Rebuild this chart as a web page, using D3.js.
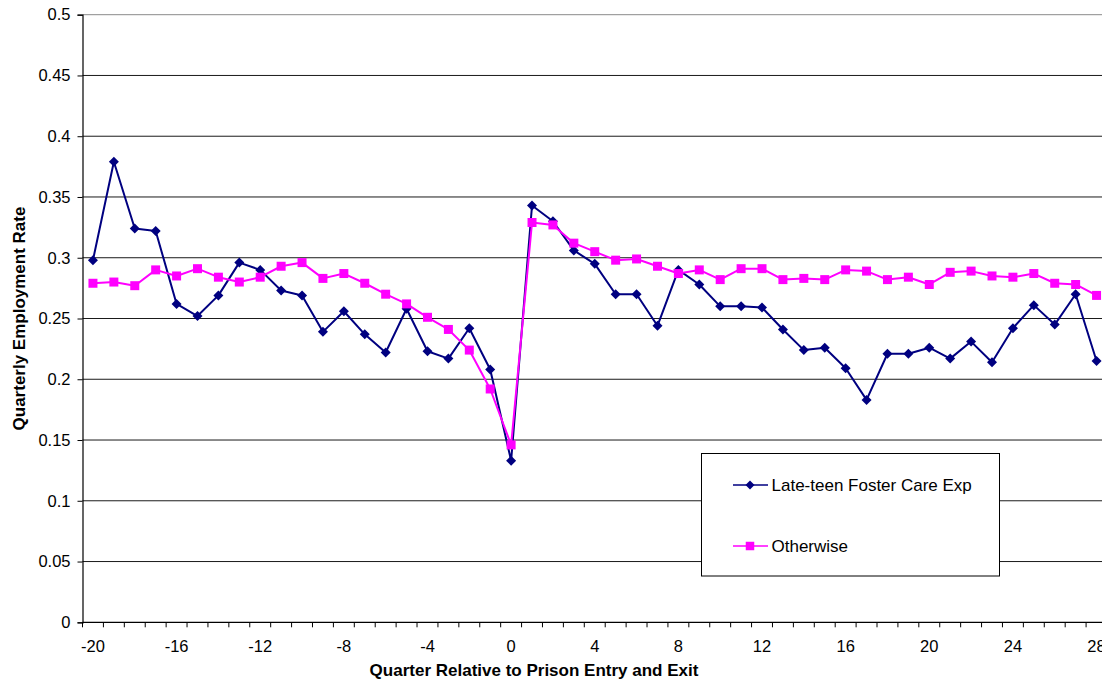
<!DOCTYPE html>
<html>
<head>
<meta charset="utf-8">
<script src="https://cdn.jsdelivr.net/npm/d3@7"></script>
<style>
  html, body { margin: 0; padding: 0; background: #fff; }
  svg { display: block; font-family: "Liberation Sans", Arial, sans-serif; }
</style>
</head>
<body>
<svg id="chart" width="1102" height="687"></svg>
<script>
// Quarters relative to prison entry (negative) and exit (positive)
const quarters = d3.range(-20, 29);

// Quarterly employment rate, youth with late-teen foster care experience
const fosterCare = [
  0.298, 0.379, 0.324, 0.322, 0.262, 0.252, 0.269, 0.296, 0.290, 0.273,
  0.269, 0.239, 0.256, 0.237, 0.222, 0.258, 0.223, 0.217, 0.242, 0.208,
  0.133,
  0.343, 0.330, 0.306, 0.295, 0.270, 0.270, 0.244, 0.290, 0.278, 0.260,
  0.260, 0.259, 0.241, 0.224, 0.226, 0.209, 0.183, 0.221, 0.221, 0.226,
  0.217, 0.231, 0.214, 0.242, 0.261, 0.245, 0.270, 0.215
];

// Quarterly employment rate, everyone else
const otherwise = [
  0.279, 0.280, 0.277, 0.290, 0.285, 0.291, 0.284, 0.280, 0.284, 0.293,
  0.296, 0.283, 0.287, 0.279, 0.270, 0.262, 0.251, 0.241, 0.224, 0.192,
  0.146,
  0.329, 0.327, 0.312, 0.305, 0.298, 0.299, 0.293, 0.287, 0.290, 0.282,
  0.291, 0.291, 0.282, 0.283, 0.282, 0.290, 0.289, 0.282, 0.284, 0.278,
  0.288, 0.289, 0.285, 0.284, 0.287, 0.279, 0.278, 0.269
];

const yTicks = d3.range(0, 0.5001, 0.05).map(v => +v.toFixed(2));
const xLabelled = quarters.filter(q => q % 4 === 0);

const seriesNames = ["Late-teen Foster Care Exp", "Otherwise"];
const seriesColors = ["#000080", "#ff00ff"];

const svg = d3.select("#chart");
const plot = { left: 82.5, right: 1107, top: 14.7, bottom: 622.3 };

const x = d3.scaleBand().domain(quarters).range([plot.left, plot.right]).padding(0);
const y = d3.scaleLinear().domain([0, 0.5]).range([plot.bottom, plot.top]);
const cx = q => x(q) + x.bandwidth() / 2;

// horizontal gridlines
svg.append("g").selectAll("line")
  .data(yTicks.filter(v => v > 0))
  .join("line")
  .attr("x1", plot.left).attr("x2", plot.right)
  .attr("y1", d => y(d)).attr("y2", d => y(d))
  .attr("stroke", d => d === 0.5 ? "#8a8a8a" : "#1a1a1a")
  .attr("stroke-width", 1);

// y axis
const yAxis = svg.append("g").attr("transform", `translate(${plot.left},0)`)
  .call(d3.axisLeft(y).tickValues(yTicks).tickSize(5).tickPadding(7)
    .tickFormat(d => String(d)));
yAxis.select(".domain").attr("stroke", "#000").attr("stroke-width", 1.2);
yAxis.selectAll(".tick line").attr("stroke", "#000");
yAxis.selectAll("text").attr("font-size", 16.5).attr("fill", "#000")
  .attr("font-family", "Liberation Sans, Arial, sans-serif");

// x axis: tick marks on category boundaries, labels every fourth quarter
const xg = svg.append("g");
xg.append("line")
  .attr("x1", plot.left).attr("x2", plot.right)
  .attr("y1", plot.bottom).attr("y2", plot.bottom)
  .attr("stroke", "#000").attr("stroke-width", 1.2);
xg.selectAll("line.tk")
  .data(quarters)
  .join("line").attr("class", "tk")
  .attr("x1", d => x(d)).attr("x2", d => x(d))
  .attr("y1", plot.bottom).attr("y2", plot.bottom + 5)
  .attr("stroke", "#000");
xg.selectAll("text")
  .data(xLabelled)
  .join("text")
  .attr("x", d => cx(d)).attr("y", 652)
  .attr("text-anchor", "middle")
  .attr("font-size", 16.5).attr("fill", "#000")
  .text(d => d);

// axis titles
svg.append("text")
  .attr("x", 534).attr("y", 676)
  .attr("text-anchor", "middle")
  .attr("font-size", 17).attr("font-weight", "bold")
  .text("Quarter Relative to Prison Entry and Exit");
svg.append("text")
  .attr("transform", `translate(25,${(plot.top + plot.bottom) / 2}) rotate(-90)`)
  .attr("text-anchor", "middle")
  .attr("font-size", 17).attr("font-weight", "bold")
  .text("Quarterly Employment Rate");

// marker outlines, centred on the data point
const diamondPath = r => `M0,${-r}L${r},0L0,${r}L${-r},0Z`;
const squarePath = s => `M${-s / 2},${-s / 2}h${s}v${s}h${-s}Z`;

function drawSeries(values, color, markerPath) {
  const pts = quarters.map((q, i) => [cx(q), y(values[i])]);
  svg.append("path")
    .attr("d", d3.line()(pts))
    .attr("fill", "none")
    .attr("stroke", color)
    .attr("stroke-width", 2)
    .attr("stroke-linejoin", "round");
  svg.append("g").selectAll("path")
    .data(pts)
    .join("path")
    .attr("transform", d => `translate(${d[0]},${d[1]})`)
    .attr("d", markerPath)
    .attr("fill", color);
}

drawSeries(fosterCare, seriesColors[0], diamondPath(5));
drawSeries(otherwise, seriesColors[1], squarePath(9));

// legend
const lg = svg.append("g");
lg.append("rect")
  .attr("x", 701.5).attr("y", 453.5)
  .attr("width", 298).attr("height", 122.5)
  .attr("fill", "#fff").attr("stroke", "#000").attr("stroke-width", 1);
const rows = [485, 546];
const legendShapes = [diamondPath(4.5), squarePath(8.5)];
seriesNames.forEach((name, i) => {
  lg.append("line")
    .attr("x1", 733).attr("x2", 768)
    .attr("y1", rows[i]).attr("y2", rows[i])
    .attr("stroke", seriesColors[i]).attr("stroke-width", 1.5);
  lg.append("path")
    .attr("transform", `translate(750,${rows[i]})`)
    .attr("d", legendShapes[i])
    .attr("fill", seriesColors[i]);
  lg.append("text")
    .attr("x", 771.5).attr("y", rows[i] + 6)
    .attr("font-size", 17).attr("fill", "#000")
    .text(name);
});
</script>
</body>
</html>
